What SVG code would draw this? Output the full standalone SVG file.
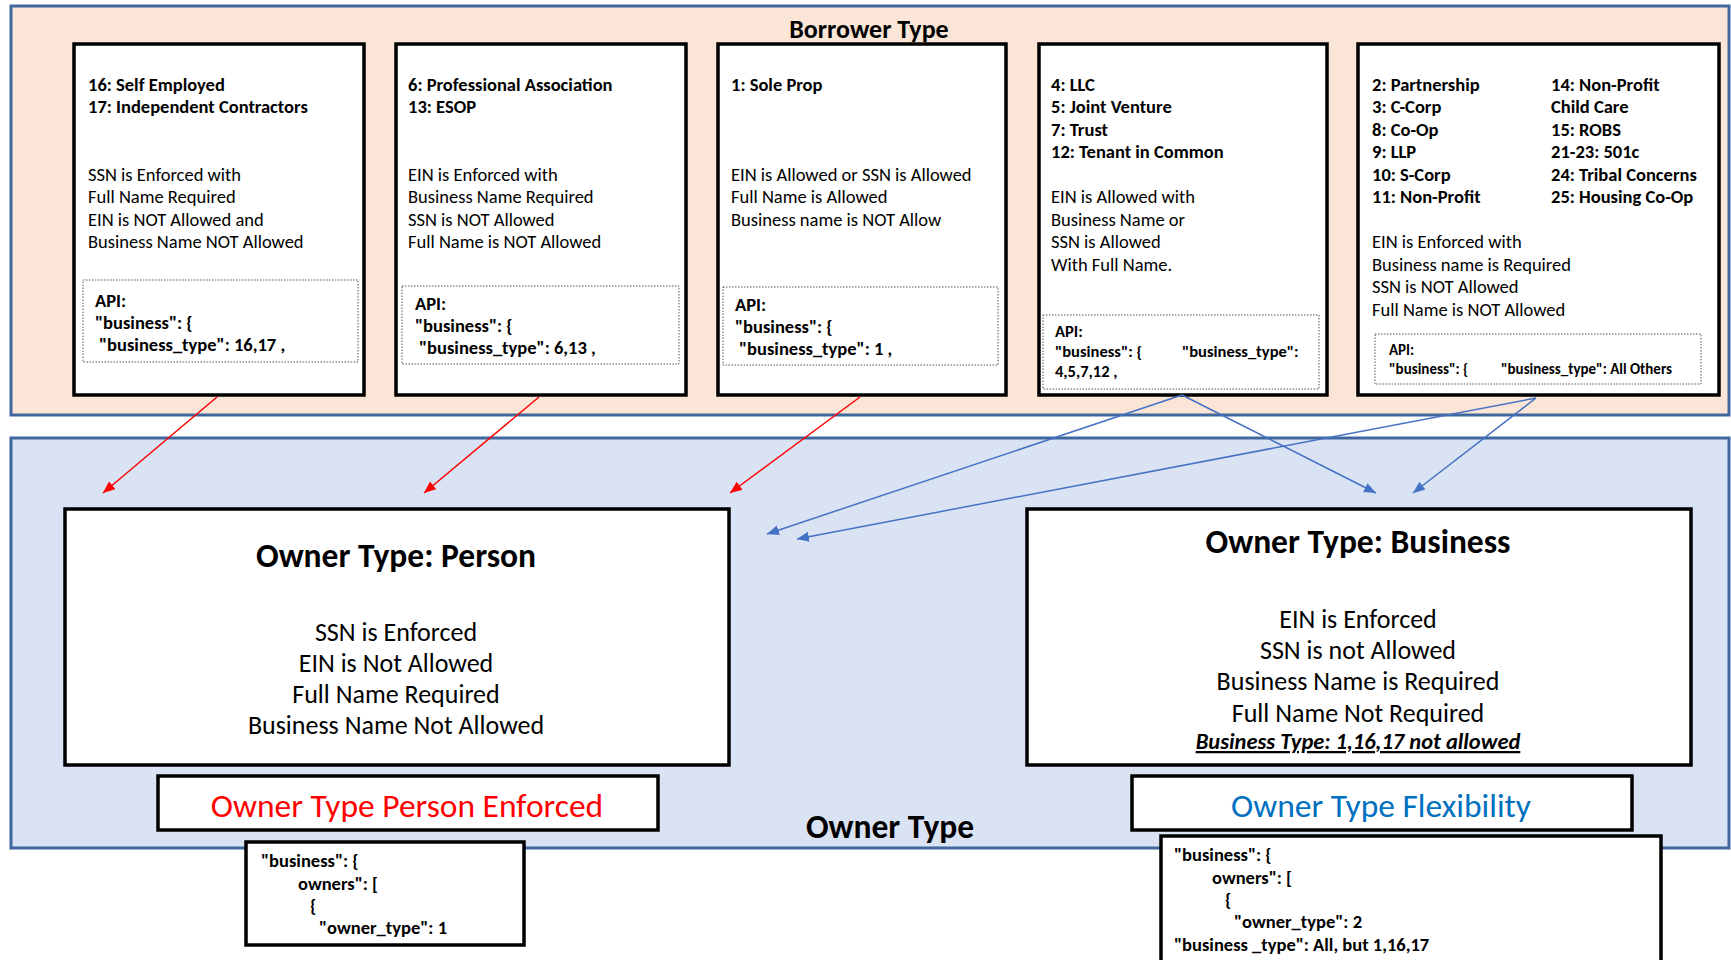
<svg xmlns="http://www.w3.org/2000/svg" width="1731" height="960" viewBox="0 0 1731 960">
<style>
text{font-family:Carlito,Lato,"Liberation Sans",sans-serif;fill:#000}
.b{font-weight:bold}
.t16{font-size:18.5px}
.t14{font-size:16.5px}
.card{fill:#fff;stroke:#000;stroke-width:3.5}
.api{fill:#fff;stroke:#555;stroke-width:1;stroke-dasharray:1.5 1.5}
.big{font-size:26px;text-anchor:middle}
.title{font-size:33.5px;font-weight:bold;text-anchor:middle}
.red{stroke:#FF0000;stroke-width:1.5;fill:none}
.blue{stroke:#4472C4;stroke-width:1.5;fill:none}
</style>
<defs>
<marker id="ar" markerUnits="userSpaceOnUse" markerWidth="14" markerHeight="12" refX="12" refY="5" orient="auto"><path d="M0,0 L12,5 L0,10 Z" fill="#FF0000"/></marker>
<marker id="ab" markerUnits="userSpaceOnUse" markerWidth="14" markerHeight="12" refX="12" refY="5" orient="auto"><path d="M0,0 L12,5 L0,10 Z" fill="#4472C4"/></marker>
</defs>
<rect width="1731" height="960" fill="#fff"/>
<g id="borrower-panel">
<rect x="11" y="6" width="1718" height="409" fill="#FBE5D6" stroke="#41679F" stroke-width="3"/>
<text x="869" y="38" class="b" font-size="26" text-anchor="middle">Borrower Type</text>
</g>
<g id="owner-panel">
<rect x="11" y="438" width="1718" height="410" fill="#DAE3F3" stroke="#41679F" stroke-width="3"/>
<text x="890" y="838" class="b" font-size="33.5" text-anchor="middle">Owner Type</text>
</g>
<g id="bt-self-employed">
<rect class="card" x="74" y="44" width="290" height="351"/>
<text class="b t16" x="88" y="91">16: Self Employed</text>
<text class="b t16" x="88" y="113">17: Independent Contractors</text>
<text class="t16" x="88" y="181">SSN is Enforced with</text>
<text class="t16" x="88" y="203">Full Name Required</text>
<text class="t16" x="88" y="226">EIN is NOT Allowed and</text>
<text class="t16" x="88" y="248">Business Name NOT Allowed</text>
<rect class="api" x="83" y="280" width="275" height="82"/>
<text class="b t16" x="95" y="307">API:</text>
<text class="b t16" x="95" y="329">"business": {</text>
<text class="b t16" x="99" y="351">"business_type": 16,17 ,</text>
</g>
<g id="bt-professional">
<rect class="card" x="396" y="44" width="290" height="351"/>
<text class="b t16" x="408" y="91">6: Professional Association</text>
<text class="b t16" x="408" y="113">13: ESOP</text>
<text class="t16" x="408" y="181">EIN is Enforced with</text>
<text class="t16" x="408" y="203">Business Name Required</text>
<text class="t16" x="408" y="226">SSN is NOT Allowed</text>
<text class="t16" x="408" y="248">Full Name is NOT Allowed</text>
<rect class="api" x="402" y="286" width="277" height="78"/>
<text class="b t16" x="415" y="310">API:</text>
<text class="b t16" x="415" y="332">"business": {</text>
<text class="b t16" x="419" y="354">"business_type": 6,13 ,</text>
</g>
<g id="bt-sole-prop">
<rect class="card" x="718" y="44" width="288" height="351"/>
<text class="b t16" x="731" y="91">1: Sole Prop</text>
<text class="t16" x="731" y="181">EIN is Allowed or SSN is Allowed</text>
<text class="t16" x="731" y="203">Full Name is Allowed</text>
<text class="t16" x="731" y="226">Business name is NOT Allow</text>
<rect class="api" x="723" y="287" width="275" height="78"/>
<text class="b t16" x="735" y="311">API:</text>
<text class="b t16" x="735" y="333">"business": {</text>
<text class="b t16" x="739" y="355">"business_type": 1 ,</text>
</g>
<g id="bt-llc">
<rect class="card" x="1039" y="44" width="288" height="351"/>
<text class="b t16" x="1051" y="91">4: LLC</text>
<text class="b t16" x="1051" y="113">5: Joint Venture</text>
<text class="b t16" x="1051" y="136">7: Trust</text>
<text class="b t16" x="1051" y="158">12: Tenant in Common</text>
<text class="t16" x="1051" y="203">EIN is Allowed with</text>
<text class="t16" x="1051" y="226">Business Name or</text>
<text class="t16" x="1051" y="248">SSN is Allowed</text>
<text class="t16" x="1051" y="271">With Full Name.</text>
<rect class="api" x="1043" y="315" width="276" height="74"/>
<text class="b t14" x="1055" y="337">API:</text>
<text class="b t14" x="1055" y="357">"business": {</text>
<text class="b t14" x="1182" y="357">"business_type":</text>
<text class="b t14" x="1055" y="377">4,5,7,12 ,</text>
</g>
<g id="bt-others">
<rect class="card" x="1358" y="44" width="361" height="351"/>
<text class="b t16" x="1372" y="91">2: Partnership</text>
<text class="b t16" x="1372" y="113">3: C-Corp</text>
<text class="b t16" x="1372" y="136">8: Co-Op</text>
<text class="b t16" x="1372" y="158">9: LLP</text>
<text class="b t16" x="1372" y="181">10: S-Corp</text>
<text class="b t16" x="1372" y="203">11: Non-Profit</text>
<text class="b t16" x="1551" y="91">14: Non-Profit</text>
<text class="b t16" x="1551" y="113">Child Care</text>
<text class="b t16" x="1551" y="136">15: ROBS</text>
<text class="b t16" x="1551" y="158">21-23: 501c</text>
<text class="b t16" x="1551" y="181">24: Tribal Concerns</text>
<text class="b t16" x="1551" y="203">25: Housing Co-Op</text>
<text class="t16" x="1372" y="248">EIN is Enforced with</text>
<text class="t16" x="1372" y="271">Business name is Required</text>
<text class="t16" x="1372" y="293">SSN is NOT Allowed</text>
<text class="t16" x="1372" y="316">Full Name is NOT Allowed</text>
<rect class="api" x="1375" y="334" width="326" height="50"/>
<text class="b" font-size="15" x="1389" y="355">API:</text>
<text class="b" font-size="15" x="1389" y="374">"business": {</text>
<text class="b" font-size="15" x="1501" y="374" textLength="171" lengthAdjust="spacingAndGlyphs">"business_type": All Others</text>
</g>
<g id="ot-person">
<rect class="card" x="65" y="509" width="664" height="256"/>
<text class="title" x="396" y="567">Owner Type: Person</text>
<text class="big" x="396" y="641">SSN is Enforced</text>
<text class="big" x="396" y="672">EIN is Not Allowed</text>
<text class="big" x="396" y="703">Full Name Required</text>
<text class="big" x="396" y="734">Business Name Not Allowed</text>
</g>
<g id="ot-business">
<rect class="card" x="1027" y="509" width="664" height="256"/>
<text class="title" x="1358" y="553">Owner Type: Business</text>
<text class="big" x="1358" y="628">EIN is Enforced</text>
<text class="big" x="1358" y="659">SSN is not Allowed</text>
<text class="big" x="1358" y="690">Business Name is Required</text>
<text class="big" x="1358" y="722">Full Name Not Required</text>
<text x="1358" y="749" font-size="22.5" font-weight="bold" font-style="italic" text-decoration="underline" text-anchor="middle">Business Type: 1,16,17 not allowed</text>
</g>
<g id="person-enforced">
<rect class="card" x="158" y="776" width="500" height="54"/>
<text x="407" y="817" font-size="33.5" text-anchor="middle" style="fill:#FF0000">Owner Type Person Enforced</text>
</g>
<g id="flexibility">
<rect class="card" x="1132" y="776" width="500" height="54"/>
<text x="1381" y="817" font-size="33.5" text-anchor="middle" style="fill:#0070C0">Owner Type Flexibility</text>
</g>
<g id="json-person">
<rect class="card" x="246" y="842" width="278" height="103"/>
<text class="b t16" x="261" y="867">"business": {</text>
<text class="b t16" x="298" y="890">owners": [</text>
<text class="b t16" x="310" y="912">{</text>
<text class="b t16" x="319" y="934">"owner_type": 1</text>
</g>
<g id="json-business">
<rect class="card" x="1161" y="836" width="500" height="130"/>
<text class="b t16" x="1174" y="861">"business": {</text>
<text class="b t16" x="1212" y="884">owners": [</text>
<text class="b t16" x="1225" y="906">{</text>
<text class="b t16" x="1234" y="928">"owner_type": 2</text>
<text class="b t16" x="1174" y="951">"business _type": All, but 1,16,17</text>
</g>
<g id="connectors">
<line class="red" x1="217" y1="397" x2="103" y2="493" marker-end="url(#ar)"/>
<line class="red" x1="539" y1="397" x2="424" y2="493" marker-end="url(#ar)"/>
<line class="red" x1="860" y1="397" x2="730" y2="493" marker-end="url(#ar)"/>
<line class="blue" x1="1182" y1="395" x2="767" y2="534" marker-end="url(#ab)"/>
<line class="blue" x1="1182" y1="395" x2="1376" y2="493" marker-end="url(#ab)"/>
<line class="blue" x1="1536" y1="398" x2="797" y2="539" marker-end="url(#ab)"/>
<line class="blue" x1="1536" y1="398" x2="1413" y2="493" marker-end="url(#ab)"/>
</g>
</svg>
